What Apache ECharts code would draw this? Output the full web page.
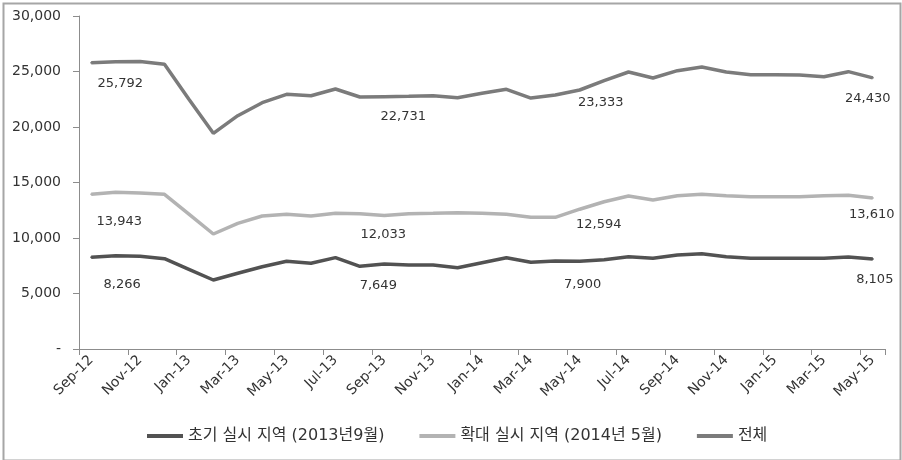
<!DOCTYPE html>
<html>
<head>
<meta charset="utf-8">
<script src="https://cdn.jsdelivr.net/npm/echarts@6/dist/echarts.min.js"></script>
<style>html,body{margin:0;padding:0;background:#fff;}#c{width:902px;height:460px;}</style>
</head>
<body>
<div id="c"></div>
<script>
var categories = ['Sep-12','Oct-12','Nov-12','Dec-12','Jan-13','Feb-13','Mar-13','Apr-13','May-13','Jun-13','Jul-13','Aug-13','Sep-13','Oct-13','Nov-13','Dec-13','Jan-14','Feb-14','Mar-14','Apr-14','May-14','Jun-14','Jul-14','Aug-14','Sep-14','Oct-14','Nov-14','Dec-14','Jan-15','Feb-15','Mar-15','Apr-15','May-15'];
var seriesNames = ['초기 실시 지역 (2013년9월)', '확대 실시 지역 (2014년 5월)', '전체'];
var initialArea = [8266, 8410, 8350, 8140, 7180, 6215, 6820, 7415, 7900, 7720, 8230, 7445, 7649, 7565, 7565, 7325, 7775, 8225, 7810, 7930, 7900, 8050, 8320, 8170, 8470, 8590, 8320, 8170, 8170, 8170, 8170, 8290, 8105];
var expandedArea = [13943, 14115, 14055, 13935, 12160, 10360, 11320, 11980, 12130, 11980, 12225, 12190, 12033, 12190, 12225, 12280, 12225, 12130, 11860, 11860, 12594, 13270, 13785, 13425, 13815, 13935, 13815, 13725, 13725, 13725, 13815, 13845, 13610];
var totalAll = [25792, 25880, 25900, 25650, 22500, 19430, 21020, 22190, 22945, 22820, 23420, 22700, 22731, 22760, 22820, 22640, 23035, 23395, 22610, 22880, 23333, 24170, 24955, 24415, 25075, 25405, 24955, 24715, 24715, 24685, 24535, 24985, 24430];
var labelledIndices = [0, 12, 20, 32];
var yTicks = [0, 5000, 10000, 15000, 20000, 25000, 30000];

// styling (label offsets in px relative to point)
var labelOffsets = [
  [[31, 27], [-6, 22], [3, 23], [2, 21]],
  [[28, 27], [-1, 19], [19, 15], [-1, 17]],
  [[29, 21], [19, 20], [21, 13], [-5, 21]]
];
var colors = ['#525252', '#b3b3b3', '#7b7b7b'];
var widths = [3.5, 3.5, 3.5];
var numFont = "'DejaVu Sans', sans-serif";
var krFont = "'DejaVu Sans', 'Noto Sans CJK KR', sans-serif";

function fmt(v) { return v.toLocaleString('en-US'); }

function buildData(arr, si) {
  return arr.map(function (v, i) {
    var k = labelledIndices.indexOf(i);
    if (k < 0) return v;
    return {
      value: v,
      symbol: 'circle',
      symbolSize: 2,
      label: {
        show: true,
        position: 'inside',
        offset: labelOffsets[si][k],
        formatter: function (p) { return fmt(p.value); },
        color: '#333',
        fontSize: 13,
        fontFamily: numFont
      }
    };
  });
}

var allSeries = [initialArea, expandedArea, totalAll];
var chart = echarts.init(document.getElementById('c'), null, {renderer: 'canvas'});
chart.setOption({
  animation: false,
  backgroundColor: '#fff',
  graphic: [{
    type: 'rect', left: 1, top: 1, z: -1,
    shape: {x: 0, y: 0, width: 897, height: 457},
    style: {fill: 'none', stroke: '#a6a6a6', lineWidth: 2}
  }],
  grid: {left: 79, right: 17, top: 16, bottom: 111, containLabel: false},
  legend: {
    bottom: 11, left: 142,
    itemWidth: 36, itemHeight: 4, itemGap: 35,
    icon: 'rect',
    textStyle: {fontSize: 16, color: '#333', fontFamily: krFont},
    data: seriesNames
  },
  xAxis: {
    type: 'category',
    data: categories,
    boundaryGap: true,
    axisLine: {lineStyle: {color: '#8c8c8c', width: 1}},
    axisTick: {show: true, interval: 1, length: 6, lineStyle: {color: '#8c8c8c'}},
    axisLabel: {interval: 1, rotate: 45, fontSize: 14, color: '#333', fontFamily: numFont, margin: 9}
  },
  yAxis: {
    type: 'value',
    min: yTicks[0], max: yTicks[yTicks.length - 1], interval: yTicks[1] - yTicks[0],
    splitLine: {show: false},
    axisLine: {show: true, lineStyle: {color: '#8c8c8c', width: 1}},
    axisTick: {show: true, length: 6, lineStyle: {color: '#8c8c8c'}},
    axisLabel: {
      fontSize: 14, color: '#333', fontFamily: numFont, margin: 18,
      formatter: function (v) { return v === 0 ? '-' : fmt(v); }
    }
  },
  series: allSeries.map(function (arr, si) {
    return {
      name: seriesNames[si],
      type: 'line',
      data: buildData(arr, si),
      symbol: 'none',
      showSymbol: true,
      color: colors[si],
      itemStyle: {color: colors[si]},
      lineStyle: {color: colors[si], width: widths[si]},
      emphasis: {disabled: true},
      z: 2 + si
    };
  })
});
</script>
</body>
</html>
